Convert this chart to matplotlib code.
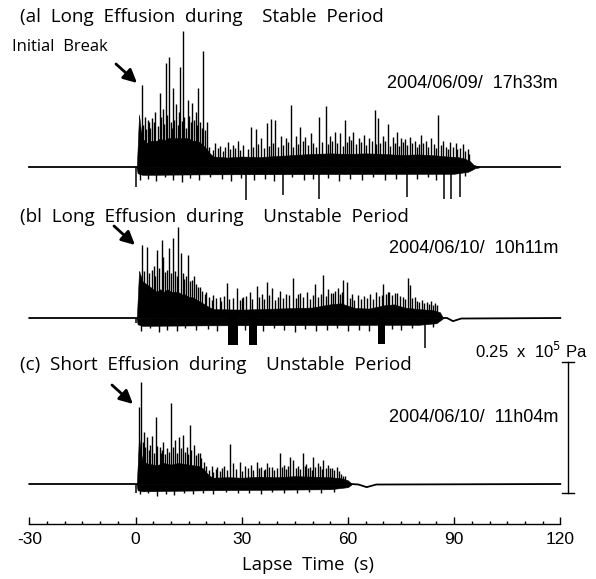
import numpy as np
import matplotlib
matplotlib.use("Agg")
import matplotlib.pyplot as plt

plt.rcParams["axes.unicode_minus"] = False

# ---- data (time in s, pressure in kPa) ----
# (a) long effusion, stable period
a_hi_t = [0.3, 0.4, 1.0, 1.5, 2, 3, 4, 5, 6, 7, 8, 9, 10, 11, 12, 13, 14, 15, 16, 17, 18, 19, 20,
          21, 22, 26, 30, 35, 40, 45, 50, 55, 60, 65, 70, 75, 80, 85, 88, 91, 93, 94.5, 95.5, 97]
a_hi = [0.1, 0.4, 10, 7, 5.5, 4.5, 5, 5, 5, 5.5, 5, 5.5, 5.5, 5.5, 5.5, 5.5, 5.5, 5.5, 5, 5, 4.8, 4.2, 3.5,
        2.6, 2.0, 1.8, 2.0, 1.9, 2.1, 2.3, 2.5, 2.6, 2.5, 2.6, 2.5, 2.3, 2.4, 2.2, 2.0, 1.9, 1.6, 1.1, 0.4, 0.1]
a_lo_t = [0.3, 0.6, 2, 20, 90, 94, 96, 97]
a_lo = [-0.1, -1.2, -1.5, -1.4, -1.3, -0.9, -0.2, -0.1]
a_quiet_t = [-30, 0.3, np.nan, 96, 120]
a_quiet = [0, 0, np.nan, 0, 0]
a_spk_t = [1.75, 2.6, 3.8, 4.7, 5.6, 6.9, 7.7, 8.6, 9.5, 10.6, 11.5, 12.6, 13.4, 14.8, 16.0, 17.0, 17.7, 19.1, 20.3,
           22.5, 24.0, 26.0, 27.5, 29.0, 32.6, 34.0, 35.5, 37.1, 38.3, 39.4, 41.0, 42.5, 43.9, 45.2, 46.5, 48.0, 49.5,
           51.8, 53.8, 55.0, 56.4, 57.8, 59.2, 60.3, 61.4, 63.0, 64.5, 66.0, 67.6, 68.5, 70.0, 71.3, 72.6, 73.9,
           75.0, 76.1, 77.5, 79.0, 80.6, 82.0, 83.5, 85.5, 87.0, 88.8, 90.5, 92.5, 93.8]
a_spk_h = [15.6, 9.5, 8.5, 9.3, 10.5, 14.1, 11.0, 19.8, 20.9, 15.0, 12.0, 19.0, 26.0, 12.7, 12.2, 10.5, 15.0, 22.2, 8.5,
           4.5, 4.0, 4.8, 4.2, 5.0, 7.6, 7.2, 5.5, 8.4, 9.1, 8.9, 6.0, 5.5, 11.8, 6.0, 7.6, 5.8, 6.5,
           9.5, 11.6, 6.0, 6.7, 6.5, 8.9, 6.0, 6.7, 5.5, 6.2, 5.5, 10.8, 9.3, 6.0, 8.2, 5.8, 6.7,
           5.5, 5.3, 5.8, 5.0, 6.1, 5.0, 5.5, 9.9, 5.0, 4.8, 4.5, 4.4, 3.5]
a_grass_t = [2.2, 3.0, 3.4, 4.2, 5.1, 6.3, 7.3, 8.1, 9.0, 9.9, 10.2, 11.0, 11.9, 12.2, 13.0, 13.8, 14.4, 15.2,
             15.6, 16.5, 17.3, 18.2, 18.7, 19.5,
             20.8, 21.9, 23.2, 24.6, 25.3, 26.8, 28.2, 29.6, 30.5, 31.8, 33.2, 34.7, 36.2, 37.7, 38.9, 40.3,
             41.8, 43.0, 44.5, 45.8, 47.2, 48.7, 50.2, 51.0, 52.6, 54.4, 55.6, 57.0, 58.5, 59.8, 61.0, 62.2,
             63.6, 65.2, 66.7, 67.9, 69.2, 70.6, 72.0, 73.2, 74.5, 75.6, 76.8, 78.2, 79.6, 80.2, 81.3, 82.7,
             84.2, 84.9, 86.3, 87.6, 88.2, 89.6, 90.9, 91.8, 93.0, 94.3]
a_grass_h = [8.0, 7.2, 9.0, 7.5, 8.5, 7.8, 9.5, 8.2, 10.0, 8.5, 7.5, 9.0, 8.0, 10.5, 8.8, 9.5, 7.5, 9.8,
             8.5, 9.0, 8.0, 8.5, 7.5, 7.0,
             3.8, 3.2, 3.6, 3.0, 3.9, 3.4, 3.7, 3.3, 4.2, 3.5, 3.8, 4.4, 3.6, 4.0, 4.6, 3.8,
             4.2, 4.8, 3.9, 4.4, 5.0, 4.2, 4.6, 3.8, 4.8, 4.3, 5.0, 4.5, 4.0, 4.8, 5.2, 4.4,
             4.7, 4.2, 5.0, 4.3, 4.6, 4.9, 4.1, 4.5, 4.0, 4.7, 4.2, 4.5, 3.9, 4.3, 4.6, 3.8,
             4.4, 3.6, 4.2, 3.8, 3.5, 3.9, 3.4, 3.6, 3.0, 2.4]
a_ngr_t = [1.2, 3.5, 5.8, 8.2, 10.5, 13.1, 15.5, 18.0, 21.0, 24.5, 27.0, 29.8, 33.5, 36.5, 39.0,
           44.2, 47.5, 50.0, 54.5, 57.5, 60.5, 64.0, 67.0, 70.5, 73.5, 79.5, 82.5, 85.0, 93.0]
a_ngr_h = [2.5, 2.2, 2.6, 2.0, 2.4, 2.8, 2.1, 2.5, 2.0, 2.3, 2.6, 2.1, 2.4, 2.2, 2.7,
           2.0, 2.5, 2.3, 2.1, 2.6, 2.2, 2.4, 2.0, 2.5, 2.2, 2.3, 2.0, 2.4, 1.8]
a_neg_t = [0.2, 31.1, 41.7, 51.8, 76.7, 87.1, 89.1, 91.6]
a_neg_h = [3.8, 6.3, 5.3, 6.1, 5.7, 6.1, 6.1, 5.7]

# (b) long effusion, unstable period
b_hi_t = [0.3, 0.4, 1.0, 2, 3, 4, 5, 6, 7, 8, 9, 10, 11, 12, 13, 14, 15, 16, 17, 18, 19, 20, 21, 22,
          30, 40, 45, 50, 55, 58, 62, 66, 70, 73, 76, 80, 84, 86, 86.8]
b_hi = [0.1, 0.4, 9, 7, 6.5, 6, 5.5, 5, 5.5, 5, 5.5, 5, 5, 5, 4.5, 4.5, 4, 4, 3.6, 3.2, 2.8, 2.4, 2.0, 1.7,
        1.6, 1.8, 1.9, 2.0, 2.6, 2.8, 1.9, 1.8, 2.4, 2.6, 2.0, 1.7, 1.5, 1.1, 0.1]
b_lo_t = [0.3, 0.6, 2, 20, 80, 85, 86.8]
b_lo = [-0.1, -1.2, -1.5, -1.4, -1.3, -1.0, -0.1]
b_quiet_t = [-30, 0.3, np.nan, 86.8, 88, 89.7, 92, 120]
b_quiet = [0, 0, np.nan, 0, 0, -0.6, -0.1, 0]
b_spk_t = [1.75, 3.2, 4.6, 6.0, 7.4, 7.9, 9.5, 10.5, 12.1, 12.8, 14.9, 16.5, 18.2, 20.0, 22.0, 23.8, 25.8, 28.6, 30.5,
           32.3, 34.2, 35.8, 37.1, 38.5, 40.8, 42.5, 44.6, 46.5, 48.5, 50.7, 53.0, 54.5, 55.8, 57.2, 58.7, 59.7,
           61.2, 62.9, 64.5, 66.2, 68.0, 70.0, 71.2, 72.4, 74.0, 75.5, 77.1, 77.5, 79.0, 80.8, 82.3, 83.5, 84.6]
b_spk_h = [13.9, 13.5, 9.2, 13.0, 14.9, 11.7, 13.4, 15.3, 17.4, 12.4, 12.0, 8.0, 6.0, 5.0, 4.4, 4.0, 6.7, 5.7, 4.0,
           5.0, 6.1, 4.5, 6.9, 5.7, 5.2, 4.6, 7.6, 4.8, 5.0, 6.5, 8.2, 5.5, 4.8, 5.7, 7.3, 6.9,
           4.5, 4.4, 4.2, 4.6, 5.0, 6.5, 5.0, 4.4, 4.8, 4.0, 7.6, 6.3, 4.0, 3.4, 3.0, 3.2, 2.9]
b_grass_t = [2.5, 3.8, 5.2, 5.6, 6.6, 8.4, 8.9, 10.0, 11.2, 11.6, 13.3, 13.8, 14.4, 15.5, 16.0, 17.0, 17.6,
             18.8, 19.5,
             20.8, 21.5, 22.8, 24.2, 25.0, 26.5, 27.5, 29.5, 30.0, 31.3, 33.0, 35.0, 36.4, 37.8, 39.5, 40.2,
             41.6, 43.4, 45.4, 46.0, 47.4, 49.2, 50.0, 51.6, 52.3, 53.8, 55.2, 56.4, 57.8, 58.2, 60.5, 61.8,
             63.6, 65.3, 67.2, 68.8, 69.5, 70.8, 71.6, 73.3, 74.8, 76.2, 78.2, 79.6, 80.0, 81.4, 83.0, 84.0, 85.3]
b_grass_h = [9.0, 8.5, 10.0, 8.0, 9.5, 8.8, 9.2, 8.5, 9.0, 8.0, 8.5, 7.5, 8.0, 7.0, 7.2, 6.5, 6.0,
             5.2, 4.5,
             4.0, 3.5, 3.8, 3.2, 4.2, 3.6, 3.9, 3.4, 3.8, 4.2, 3.6, 4.0, 3.7, 4.4, 3.5, 4.1,
             3.9, 4.3, 3.8, 4.5, 4.0, 3.6, 4.4, 4.0, 4.6, 4.2, 4.8, 5.2, 4.6, 5.0, 3.8, 3.4,
             3.6, 3.9, 3.7, 4.2, 4.4, 4.6, 5.0, 4.8, 4.2, 3.6, 3.8, 3.2, 3.0, 2.8, 2.6, 2.5, 2.4]
b_ngr_t = [1.5, 4.0, 6.5, 9.0, 11.8, 14.0, 17.2, 20.5, 23.0, 30.8, 36.0, 39.0, 42.0, 45.0, 48.0,
           51.0, 54.0, 57.0, 60.0, 63.0, 66.0, 72.5, 75.0, 78.0, 84.0]
b_ngr_h = [2.4, 2.0, 2.6, 2.2, 2.5, 2.0, 2.3, 2.1, 2.4, 2.2, 2.5, 2.0, 2.3, 2.6, 2.1,
           2.4, 2.2, 2.0, 2.5, 2.2, 2.4, 2.1, 2.3, 2.0, 1.8]
b_blk_t0 = [26.2, 32.1, 68.6]
b_blk_t1 = [29.0, 34.4, 70.5]
b_blk_d = [5.2, 5.2, 5.0]
b_neg_t = [0.2, 81.8]
b_neg_h = [1.0, 5.7]

# (c) short effusion, unstable period
c_hi_t = [0.3, 0.4, 1.0, 1.5, 2, 3, 4, 6, 8, 10, 12, 14, 16, 18, 19, 20, 21, 22, 26, 30, 35, 40, 45, 50,
          55, 58, 60, 61]
c_hi = [0.1, 0.4, 9, 6, 4.5, 4.0, 3.8, 3.6, 4.0, 3.7, 4.0, 3.8, 3.6, 3.4, 3.0, 2.2, 1.5, 1.2, 1.3, 1.2,
        1.4, 1.3, 1.5, 1.4, 1.3, 1.1, 0.7, 0.1]
c_lo_t = [0.3, 0.6, 2, 20, 55, 60, 61]
c_lo = [-0.1, -1.2, -1.4, -1.2, -1.0, -0.6, -0.1]
c_quiet_t = [-30, 0.3, np.nan, 61, 63, 65.3, 68, 120]
c_quiet = [0, 0, np.nan, 0, -0.1, -0.6, -0.1, 0]
c_spk_t = [1.1, 1.5, 2.4, 3.2, 4.6, 5.7, 6.8, 7.9, 8.8, 10.0, 11.2, 12.4, 13.5, 14.5, 15.4, 16.5, 18.2, 19.4,
           21.5, 23.0, 25.0, 26.7, 27.6, 29.5, 31.0, 32.5, 34.2, 35.5, 37.1, 38.5, 40.8, 42.0, 43.6, 44.6, 46.0,
           47.2, 48.3, 49.3, 50.2, 51.6, 53.1, 54.5, 55.6, 56.8, 58.7]
c_spk_h = [14.7, 19.5, 9.9, 9.0, 9.2, 12.8, 7.0, 8.0, 6.9, 15.5, 8.4, 9.0, 9.3, 7.0, 11.3, 7.4, 5.9, 4.2,
           3.5, 3.2, 3.4, 7.6, 4.0, 4.2, 3.4, 3.6, 4.2, 3.2, 4.0, 3.3, 5.9, 3.6, 5.2, 4.6, 3.5,
           5.9, 3.8, 3.3, 5.2, 4.0, 4.6, 3.6, 3.0, 3.3, 1.5]
c_grass_t = [2.0, 2.8, 3.8, 4.2, 5.2, 6.2, 7.2, 7.5, 8.3, 9.4, 10.6, 11.8, 12.9, 14.0, 14.9, 15.8, 17.0, 17.6,
             18.6, 19.8,
             20.8, 21.8, 22.6, 24.0, 24.5, 25.8, 28.4, 30.2, 31.8, 33.2, 34.8, 36.2, 36.6, 37.8, 39.2, 40.0,
             41.4, 42.6, 43.2, 45.3, 46.5, 47.8, 48.8, 49.8, 50.8, 52.2, 52.6, 53.8, 55.0, 56.2, 57.4, 58.0, 59.2]
c_grass_h = [8.0, 7.0, 6.5, 7.5, 6.0, 7.2, 6.0, 6.5, 5.8, 6.2, 7.0, 6.0, 6.8, 6.2, 5.8, 6.5, 5.5, 6.0,
             5.0, 3.5,
             2.6, 2.2, 2.8, 2.4, 3.0, 2.6, 2.9, 2.5, 3.1, 2.7, 3.0, 2.6, 2.8, 3.2, 2.7, 3.0,
             3.3, 2.8, 3.4, 3.0, 2.8, 3.5, 3.0, 2.6, 3.2, 3.4, 2.8, 3.0, 3.1, 2.6, 2.4, 2.0, 1.6]
c_ngr_t = [1.3, 3.6, 6.0, 8.5, 11.0, 13.8, 16.2, 19.0, 22.0, 25.5, 29.0, 32.0, 35.5, 38.5, 42.0,
           45.5, 49.0, 52.5, 56.0]
c_ngr_h = [2.0, 1.8, 2.2, 1.9, 2.1, 1.8, 2.0, 1.7, 1.9, 1.6, 1.8, 1.7, 1.9, 1.6, 1.8,
           1.7, 1.6, 1.8, 1.5]
c_neg_t = [0.2]
c_neg_h = [1.7]

titles = ["(al  Long  Effusion  during    Stable  Period",
          "(bl  Long  Effusion  during    Unstable  Period",
          "(c)  Short  Effusion  during    Unstable  Period"]
stamps = ["2004/06/09/  17h33m", "2004/06/10/  10h11m", "2004/06/10/  11h04m"]
x_ticks = [-30, 0, 30, 60, 90, 120]
scale_kpa = 25

# ---- layout: pixel <-> data mapping of the original figure ----
X0, SX = 135.5, 3.54          # px of t=0, px per second
Y0, SY = 484.0, 131.0 / 25.0  # px of trace (c) baseline, px per kPa
W, H = 596, 579


def to_data(xp, yp):
    return (xp - X0) / SX, (Y0 - yp) / SY


offsets = [(Y0 - 167) / SY, (Y0 - 318) / SY, 0.0]

fig = plt.figure(figsize=(W / 100, H / 100), dpi=100)
ax = fig.add_axes([0, 0, 1, 1])
ax.set_xlim(to_data(0, 0)[0], to_data(W, 0)[0])
ax.set_ylim(to_data(0, H)[1], to_data(0, 0)[1])

traces = [
    (a_hi_t, a_hi, a_lo_t, a_lo, a_quiet_t, a_quiet, a_spk_t, a_spk_h, a_grass_t, a_grass_h,
     a_ngr_t, a_ngr_h, a_neg_t, a_neg_h, [], [], []),
    (b_hi_t, b_hi, b_lo_t, b_lo, b_quiet_t, b_quiet, b_spk_t, b_spk_h, b_grass_t, b_grass_h,
     b_ngr_t, b_ngr_h, b_neg_t, b_neg_h, b_blk_t0, b_blk_t1, b_blk_d),
    (c_hi_t, c_hi, c_lo_t, c_lo, c_quiet_t, c_quiet, c_spk_t, c_spk_h, c_grass_t, c_grass_h,
     c_ngr_t, c_ngr_h, c_neg_t, c_neg_h, [], [], []),
]

for off, tr in zip(offsets, traces):
    ht, hv, lt, lv, qt, qv, st, sh, gt, gh, ngt, ngh, nt, nh, bt0, bt1, bd = tr
    ax.plot(qt, off + np.array(qv), color="black", lw=1.3)
    ax.fill_between(ht, off, off + np.array(hv), color="black", lw=0.4)
    ax.fill_between(lt, off + np.array(lv), off, color="black", lw=0.4)
    ax.vlines(gt, off, off + np.array(gh), color="black", lw=1.0)
    ax.vlines(ngt, off, off - np.array(ngh), color="black", lw=1.0)
    ax.vlines(st, off, off + np.array(sh), color="black", lw=1.0)
    ax.vlines(nt, off, off - np.array(nh), color="black", lw=1.1)
    for t0, t1, d in zip(bt0, bt1, bd):
        ax.bar((t0 + t1) / 2, -d, width=t1 - t0, bottom=off, color="black", lw=0)

# axis
ax_y = to_data(0, 523.5)[1]
for s in ["left", "right", "top"]:
    ax.spines[s].set_visible(False)
ax.spines["bottom"].set_position(("data", ax_y))
ax.spines["bottom"].set_bounds(-30, 120)
ax.spines["bottom"].set_linewidth(1.0)
ax.set_yticks([])
ax.set_xticks(x_ticks)
ax.set_xticks(np.arange(-30, 121, 5), minor=True)
ax.tick_params(axis="x", which="major", direction="in", length=5, width=1.0, pad=6,
               labelsize=12.5)
ax.tick_params(axis="x", which="minor", direction="in", length=2.5, width=1.0)
for lab in ax.get_xticklabels():
    lab.set_fontfamily("Liberation Sans")
ax.set_xlabel("Lapse  Time  (s)", fontsize=13.3, family="Open Sans", va="center")
ax.xaxis.set_label_coords(308 / W, 1 - 565 / H)

# titles, time stamps, arrows
title_y = [17, 217, 365]
stamp_y = [83, 248, 417]
arrows = [((116, 64), (137, 83)), ((114, 226), (135, 245)), ((112, 385), (133, 404))]
for k in range(3):
    ax.text(*to_data(20, title_y[k]), titles[k], fontsize=13.6, family="Open Sans",
            ha="left", va="center")
    ax.text(*to_data(558, stamp_y[k]), stamps[k], fontsize=13, family="Liberation Sans",
            ha="right", va="center")
    (x1, y1), (x2, y2) = arrows[k]
    ax.annotate("", xy=to_data(x2, y2), xytext=to_data(x1, y1),
                arrowprops=dict(arrowstyle="-|>,head_length=0.8,head_width=0.4",
                                color="black", lw=2.0, shrinkA=0, shrinkB=0))
ax.text(*to_data(12, 47), "Initial  Break", fontsize=12, family="Open Sans",
        ha="left", va="center")

# scale bar
sb_x, sb_y0 = to_data(568, 493)
ax.plot([sb_x, sb_x], [sb_y0, sb_y0 + scale_kpa], color="black", lw=1.0)
cap = 6 / SX
for yy in [sb_y0, sb_y0 + scale_kpa]:
    ax.plot([sb_x - cap, sb_x + cap], [yy, yy], color="black", lw=1.0)
ax.text(*to_data(588, 358), r"0.25  x  10$^{5}$ Pa", fontsize=12, family="Liberation Sans",
        ha="right", va="baseline")

fig.savefig("out.png", dpi=100)
